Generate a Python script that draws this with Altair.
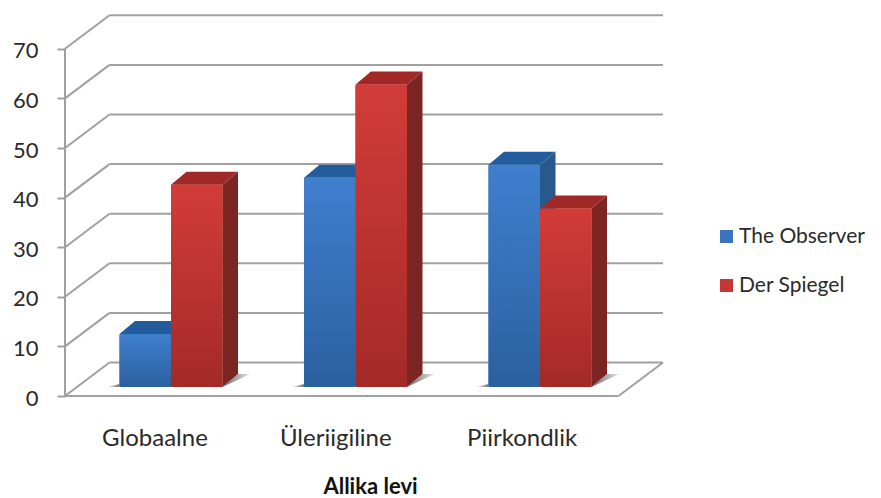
import altair as alt
import pandas as pd

categories = ["Globaalne", "Üleriigiline", "Piirkondlik"]
observer = [10.7, 42.2, 44.8]
spiegel = [40.8, 61, 36]
series_names = ["The Observer", "Der Spiegel"]
ticks = [0, 10, 20, 30, 40, 50, 60, 70]

FONT = "Lato"
TEXT = "#2a2a2a"
GRID = "#a0a0a0"

# scale set-up: x in category widths, y in chart values
WIDTH, HEIGHT = 598, 380
PX_X = 184.5            # px per category
PX_Y = 4.96             # px per value unit
XMAX = WIDTH / PX_X
YMAX = HEIGHT / PX_Y
WALL_DX = 44.5 / PX_X   # depth of the box
WALL_DY = 33.5 / PX_Y
BAR_DX = 15.5 / PX_X    # depth of a bar
BAR_DY = 13 / PX_Y
BASE = 9 / PX_Y         # bar foot above the front floor edge
BAR_W = 51.5 / PX_X
BAR_START = 54.5 / PX_X  # left edge of first bar inside a category
TIP = 12 / PX_X          # reach of the floor shadow

x_s = alt.Scale(domain=[0, XMAX], nice=False, zero=False)
y_s = alt.Scale(domain=[0, YMAX], nice=False, zero=False)

# walls and gridlines
wall = []
for t in ticks:
    wall.append(dict(x=0, y=t, x2=WALL_DX, y2=t + WALL_DY))
    wall.append(dict(x=WALL_DX, y=t + WALL_DY, x2=XMAX, y2=t + WALL_DY))
wall.append(dict(x=0, y=0, x2=0, y2=70))
wall.append(dict(x=0, y=0, x2=3.0, y2=0))
wall.append(dict(x=3.0, y=0, x2=XMAX, y2=WALL_DY))

rules = alt.Chart(pd.DataFrame(wall)).mark_rule(color=GRID, strokeWidth=2).encode(
    x=alt.X("x:Q", scale=x_s,
            axis=alt.Axis(values=[0.485, 1.465, 2.475], domain=False, grid=False, ticks=False,
                          labelExpr="[" + ",".join(f"'{c}'" for c in categories) + "][floor(datum.value)]",
                          labelFont=FONT, labelFontSize=24, labelColor=TEXT, labelPadding=30,
                          title="Allika levi", titleFont=FONT, titleFontSize=22, titleFontWeight="bold",
                          titleColor="#111111", titleX=305, titleY=80)),
    x2="x2:Q",
    y=alt.Y("y:Q", scale=y_s,
            axis=alt.Axis(values=ticks, domain=False, grid=False, tickColor=GRID, tickSize=8, tickWidth=2,
                          labelFont=FONT, labelFontSize=22, labelColor=TEXT, labelPadding=19,
                          labelOffset=2, title=None)),
    y2="y2:Q",
)

# bars in drawing order
rows = []
for i, c in enumerate(categories):
    for j, (name, vals) in enumerate(zip(series_names, [observer, spiegel])):
        x0 = i + BAR_START + j * BAR_W
        rows.append(dict(series=name, order=i * 2 + j, x0=x0, x1=x0 + BAR_W,
                         base=BASE, top=BASE + vals[i]))
bars = pd.DataFrame(rows)

blue_front = alt.Gradient(gradient="linear", x1=0, y1=0, x2=0, y2=1,
                          stops=[alt.GradientStop(offset=0, color="#3f7fce"),
                                 alt.GradientStop(offset=1, color="#2b609f")])
red_front = alt.Gradient(gradient="linear", x1=0, y1=0, x2=0, y2=1,
                         stops=[alt.GradientStop(offset=0, color="#d23c38"),
                                alt.GradientStop(offset=1, color="#a32a27")])
fronts = {"The Observer": blue_front, "Der Spiegel": red_front}
sides = {"The Observer": "#27598f", "Der Spiegel": "#7d2522"}
tops = {"The Observer": "#235c9c", "Der Spiegel": "#a02826"}

shadow_right = alt.Gradient(gradient="linear", x1=0, y1=0, x2=1, y2=0,
                            stops=[alt.GradientStop(offset=0, color="#6a6a6a"),
                                   alt.GradientStop(offset=1, color="#e4e4e4")])
shadow_left = alt.Gradient(gradient="linear", x1=0, y1=0, x2=1, y2=0,
                           stops=[alt.GradientStop(offset=0, color="#eeeeee"),
                                  alt.GradientStop(offset=1, color="#777777")])

layers = [rules]

# floor shadows
for _, b in bars[bars.series == series_names[1]].iterrows():
    x_end = b.x1
    frac = BAR_DX / (BAR_DX + TIP)
    right = pd.DataFrame([
        dict(x=x_end, y=b.base, y2=b.base),
        dict(x=x_end + BAR_DX, y=b.base + BAR_DY * frac, y2=b.base + BAR_DY),
        dict(x=x_end + BAR_DX + TIP, y=b.base + BAR_DY, y2=b.base + BAR_DY),
    ])
    layers.append(alt.Chart(right).mark_area(color=shadow_right).encode(
        x=alt.X("x:Q", scale=x_s), y=alt.Y("y:Q", scale=y_s), y2="y2:Q"))
    x_start = b.x0 - BAR_W
    left = pd.DataFrame([
        dict(x=x_start - TIP, y=b.base, y2=b.base),
        dict(x=x_start, y=b.base, y2=b.base + 3 / PX_Y),
    ])
    layers.append(alt.Chart(left).mark_area(color=shadow_left).encode(
        x=alt.X("x:Q", scale=x_s), y=alt.Y("y:Q", scale=y_s), y2="y2:Q"))

# legend carrier: plain front faces under the shaded ones
legend_layer = alt.Chart(bars).mark_rect().encode(
    x=alt.X("x0:Q", scale=x_s), x2="x1:Q",
    y=alt.Y("base:Q", scale=y_s), y2="top:Q",
    color=alt.Color("series:N", sort=series_names,
                    scale=alt.Scale(domain=series_names, range=["#3a74bd", "#c63633"]),
                    legend=alt.Legend(orient="none", legendX=651, legendY=210, title=None,
                                      symbolType="square", symbolSize=170, symbolStrokeWidth=0,
                                      labelFont=FONT, labelFontSize=21, labelColor=TEXT,
                                      rowPadding=27, labelOffset=2)),
)
layers.append(legend_layer)

for _, b in bars.sort_values("order").iterrows():
    one = pd.DataFrame([b])
    # side face
    side = pd.DataFrame([
        dict(x=b.x1, y=b.base, y2=b.top),
        dict(x=b.x1 + BAR_DX, y=b.base + BAR_DY, y2=b.top + BAR_DY),
    ])
    layers.append(alt.Chart(side).mark_area(color=sides[b.series]).encode(
        x=alt.X("x:Q", scale=x_s), y=alt.Y("y:Q", scale=y_s), y2="y2:Q"))
    # top face
    top = pd.DataFrame([
        dict(x=b.x0, y=b.top, y2=b.top),
        dict(x=b.x0 + BAR_DX, y=b.top + BAR_DY, y2=b.top),
        dict(x=b.x1, y=b.top + BAR_DY, y2=b.top),
        dict(x=b.x1 + BAR_DX, y=b.top + BAR_DY, y2=b.top + BAR_DY),
    ])
    layers.append(alt.Chart(top).mark_area(color=tops[b.series]).encode(
        x=alt.X("x:Q", scale=x_s), y=alt.Y("y:Q", scale=y_s), y2="y2:Q"))
    # front face
    layers.append(alt.Chart(one).mark_rect(color=fronts[b.series], cornerRadius=2).encode(
        x=alt.X("x0:Q", scale=x_s), x2="x1:Q",
        y=alt.Y("base:Q", scale=y_s), y2="top:Q"))

chart = alt.layer(*layers).properties(
    width=WIDTH, height=HEIGHT,
    autosize=alt.AutoSizeParams(type="none"),
    padding={"left": 57, "top": 8, "right": 210, "bottom": 102},
).configure_view(stroke=None)

chart.save("out.html", embed_options={"renderer": "svg", "actions": False})
